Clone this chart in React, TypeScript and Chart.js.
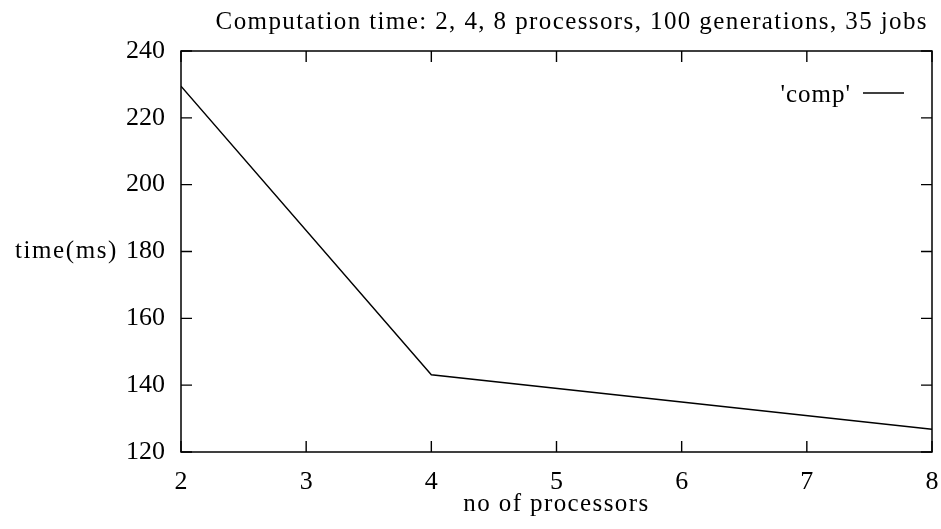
import React, { useEffect, useRef } from "react";
import { Chart, registerables } from "chart.js";

Chart.register(...registerables);

const processors = [2, 4, 8];
const compTime = [229.5, 143.1, 126.8];
const seriesLabel = "'comp'";
const chartTitle = "Computation time: 2, 4, 8 processors, 100 generations, 35 jobs";
const xTitle = "no of processors";
const yTitle = "time(ms)";
const xMin = 2, xMax = 8, xStep = 1;
const yMin = 120, yMax = 240, yStep = 20;

const FONT = "'Liberation Serif', 'Times New Roman', serif";

const framePlugin = {
  id: "gnuplotFrame",
  afterDraw(chart: any) {
    const { ctx, chartArea: a, scales } = chart;
    const xs = scales.x, ys = scales.y;
    ctx.save();
    ctx.strokeStyle = "#000";
    ctx.lineWidth = 1.5;
    ctx.strokeRect(a.left, a.top, a.right - a.left, a.bottom - a.top);
    const tl = 11;
    ctx.lineWidth = 1.4;
    ctx.beginPath();
    xs.ticks.forEach((t: any) => {
      const px = xs.getPixelForValue(t.value);
      ctx.moveTo(px, a.bottom); ctx.lineTo(px, a.bottom - tl);
      ctx.moveTo(px, a.top); ctx.lineTo(px, a.top + tl);
    });
    ys.ticks.forEach((t: any) => {
      const py = ys.getPixelForValue(t.value);
      ctx.moveTo(a.left, py); ctx.lineTo(a.left + tl, py);
      ctx.moveTo(a.right, py); ctx.lineTo(a.right - tl, py);
    });
    ctx.stroke();

    ctx.fillStyle = "#000";
    ctx.font = `25px ${FONT}`;
    ctx.textBaseline = "middle";
    (ctx as any).letterSpacing = "1.4px";
    ctx.textAlign = "left";
    const tw = ctx.measureText(chartTitle).width;
    ctx.fillText(chartTitle, 928 - tw, 22);
    const xw = ctx.measureText(xTitle).width;
    ctx.fillText(xTitle, (a.left + a.right) / 2 - xw / 2, 504);
    (ctx as any).letterSpacing = "1.6px";
    const yw = ctx.measureText(yTitle).width;
    ctx.fillText(yTitle, 118 - yw, ys.getPixelForValue(180));
    // legend
    (ctx as any).letterSpacing = "1px";
    const label = chart.data.datasets[0].label;
    const lw = ctx.measureText(label).width;
    ctx.fillText(label, 851 - lw, 95);
    (ctx as any).letterSpacing = "0px";
    ctx.beginPath();
    ctx.lineWidth = 1.4;
    ctx.moveTo(863, 93);
    ctx.lineTo(904, 93);
    ctx.stroke();
    ctx.restore();
  },
};

export default function App() {
  const ref = useRef<HTMLCanvasElement>(null);
  useEffect(() => {
    if (!ref.current) return;
    const chart = new Chart(ref.current, {
      type: "line",
      data: {
        datasets: [
          {
            label: seriesLabel,
            data: processors.map((p, i) => ({ x: p, y: compTime[i] })),
            borderColor: "#000",
            borderWidth: 1.4,
            pointRadius: 0,
            tension: 0,
            fill: false,
          },
        ],
      },
      options: {
        responsive: false,
        animation: false,
        layout: { autoPadding: false, padding: { top: 51, right: 9, left: 0, bottom: 0 } },
        plugins: { legend: { display: false }, title: { display: false }, tooltip: { enabled: false } },
        scales: {
          x: {
            type: "linear",
            min: xMin,
            max: xMax,
            ticks: { stepSize: xStep, color: "#000", padding: 15, font: { family: FONT, size: 26 }, maxRotation: 0 },
            grid: { display: false, drawTicks: false },
            border: { display: false },
            afterFit: (s: any) => { s.height = 77; s.paddingLeft = 0; s.paddingRight = 0; },
          },
          y: {
            type: "linear",
            min: yMin,
            max: yMax,
            ticks: { stepSize: yStep, color: "#000", padding: 16, font: { family: FONT, size: 26 } },
            grid: { display: false, drawTicks: false },
            border: { display: false },
            afterFit: (s: any) => { s.width = 181; s.paddingTop = 0; s.paddingBottom = 0; },
          },
        },
      },
      plugins: [framePlugin],
    });
    return () => chart.destroy();
  }, []);
  return (
    <div style={{ position: "fixed", left: 0, top: 0, width: 941, height: 529, background: "#fff" }}>
      <canvas ref={ref} width={941} height={529} style={{ display: "block" }} />
    </div>
  );
}
